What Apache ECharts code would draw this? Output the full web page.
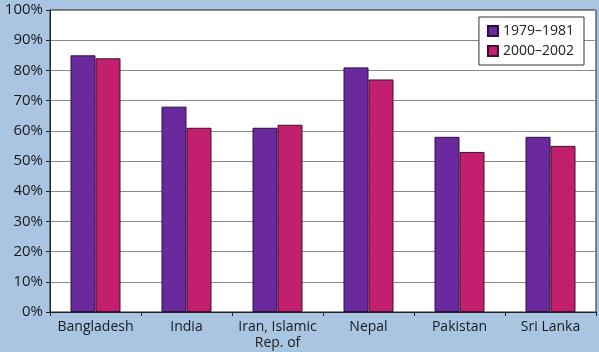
<!DOCTYPE html>
<html>
<head>
<meta charset="utf-8">
<script src="https://cdn.jsdelivr.net/npm/echarts@6/dist/echarts.min.js"></script>
<style>
  html, body { margin: 0; padding: 0; background: #a9c5e2; }
  #chart { width: 599px; height: 352px; }
</style>
</head>
<body>
<div id="chart"></div>
<script>
// categories and the two periods
const countries = ['Bangladesh', 'India', 'Iran, Islamic\nRep. of', 'Nepal', 'Pakistan', 'Sri Lanka'];
const early = [85, 68, 61, 81, 58, 58]; // 1979-1981
const late = [84, 61, 62, 77, 53, 55];  // 2000-2002
const yTicks = [0, 10, 20, 30, 40, 50, 60, 70, 80, 90, 100];

const chart = echarts.init(document.getElementById('chart'));

const fontFam = '"Open Sans", "Noto Sans", sans-serif';

chart.setOption({
  backgroundColor: '#a9c5e2',
  animation: false,
  grid: {
    left: 50,
    right: 3,
    top: 10,
    bottom: 40,
    show: true,
    backgroundColor: '#ffffff',
    borderColor: '#222',
    borderWidth: 1
  },
  legend: {
    right: 15,
    top: 17,
    orient: 'vertical',
    icon: 'rect',
    backgroundColor: '#ffffff',
    borderColor: '#333',
    borderWidth: 1,
    borderRadius: 0,
    padding: [7, 10, 7, 8],
    itemGap: 6,
    itemWidth: 10,
    itemHeight: 10,
    textStyle: { fontFamily: fontFam, fontSize: 14, color: '#222' },
    data: ['1979–1981', '2000–2002']
  },
  xAxis: {
    type: 'category',
    data: countries,
    axisLine: { lineStyle: { color: '#222' } },
    axisTick: { show: true, length: 4, lineStyle: { color: '#222' } },
    axisLabel: {
      interval: 0,
      fontFamily: fontFam,
      fontSize: 14,
      color: '#1a1a1a',
      margin: 7,
      lineHeight: 16
    }
  },
  yAxis: {
    type: 'value',
    min: 0,
    max: 100,
    interval: 10,
    axisLine: { show: true, lineStyle: { color: '#222' } },
    axisTick: { show: true, length: 4, lineStyle: { color: '#222' } },
    splitLine: { lineStyle: { color: '#8a8a8a', width: 1 } },
    axisLabel: {
      fontFamily: fontFam,
      fontSize: 15,
      color: '#1a1a1a',
      margin: 7,
      formatter: v => yTicks.includes(v) ? v + '%' : ''
    }
  },
  series: [
    {
      name: '1979–1981',
      type: 'bar',
      data: early,
      barWidth: 25,
      barGap: '0%',
      itemStyle: { color: '#6a2a9e', borderColor: '#2a1040', borderWidth: 1 }
    },
    {
      name: '2000–2002',
      type: 'bar',
      data: late,
      barWidth: 25,
      itemStyle: { color: '#c2206f', borderColor: '#401028', borderWidth: 1 }
    }
  ]
});
</script>
</body>
</html>
